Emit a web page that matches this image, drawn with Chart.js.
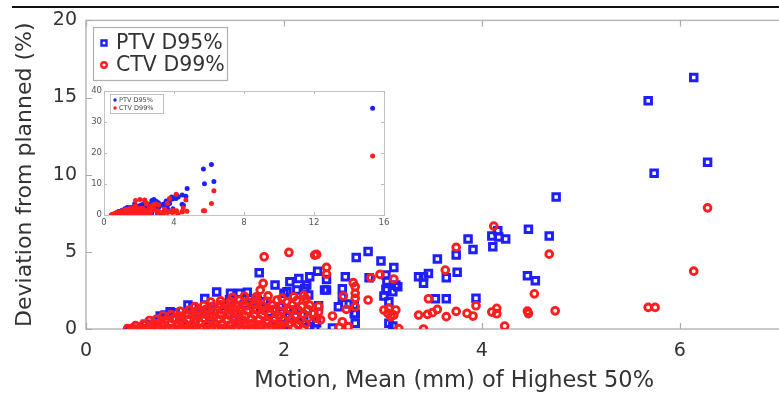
<!DOCTYPE html>
<html><head><meta charset="utf-8">
<script src="https://cdn.jsdelivr.net/npm/chart.js@4/dist/chart.umd.min.js"></script>
<style>
html,body{margin:0;padding:0;background:#fff;overflow:hidden;width:779px;height:398px;position:relative;}
#c1{position:absolute;left:0;top:0;}
#c2{position:absolute;left:60px;top:80px;}
</style></head><body>
<canvas id="c1" width="830" height="398"></canvas>
<canvas id="c2" width="340" height="160"></canvas>
<script>
// ---------- data ----------
const seriesLabels = ['PTV D95%', 'CTV D99%'];
const xTitle = 'Motion, Mean (mm) of Highest 50%';
const yTitle = 'Deviation from planned (%)';
const xTicks = [0, 2, 4, 6];
const yTicks = [0, 5, 10, 15, 20];
const insetXTicks = [0, 4, 8, 12, 16];
const insetYTicks = [0, 10, 20, 30, 40];

// PTV D95% : [motion, deviation]
const ptvData = [
 [6.14,16.3],[5.68,14.8],[6.28,10.8],[5.74,10.1],
 [4.75,8.56],[4.47,6.47],[4.68,6.02],[4.16,6.36],[4.10,6.02],[4.17,5.97],[4.24,5.84],[4.11,5.33],
 [3.86,5.83],[3.91,5.16],[3.74,4.79],[3.55,4.53],[3.75,3.67],[3.64,3.32],[3.46,3.60],[3.41,3.39],
 [3.36,3.39],[3.41,2.96],[4.46,3.45],[4.54,3.13],[3.53,1.96],[3.64,1.96],[3.94,2.00],
 [2.85,5.03],[2.73,4.64],[2.98,4.40],[3.11,3.99],[2.34,3.75],[2.62,3.39],[2.43,3.21],[2.43,2.52],
 [2.59,2.61],[2.86,3.32],[3.04,3.11],[3.15,2.74],[3.10,2.41],[3.04,2.52],[2.59,2.05],[2.66,1.62],
 [3.01,2.14],[3.06,1.77],[2.55,1.44],[2.72,0.97],[2.49,0.06],[2.72,0.37],[3.10,0.19],[3.06,0.37],
 [3.03,3.50],[3.13,2.85],[3.03,2.57],[2.71,1.55],[2.71,1.01],
 [0.44,0.00],[0.80,0.91],[0.85,1.12],[0.90,1.06],[1.03,1.55],[1.08,1.44],[1.20,1.98],[1.32,2.40],
 [1.46,2.31],[1.55,2.31],[1.63,2.38],[1.75,3.65],[1.73,1.88],[1.80,1.77],[1.91,2.85],[2.03,2.42],
 [2.06,3.06],[2.15,3.28],[2.23,2.85],[2.26,3.39],[2.13,2.52],[2.21,2.63],[2.25,2.20],[2.00,2.31],
 [2.41,2.52],[2.26,0.15],[2.31,0.00],[1.96,1.44],[2.10,1.23],[2.18,0.90],[1.03,0.58],[1.13,0.90],
 [1.26,1.23],[0.60,0.30],[0.70,0.50],[0.95,0.70],[1.15,1.10],[1.40,1.50],[1.50,1.00],[1.60,1.60],
 [1.70,1.30],[1.85,1.10],[1.90,0.60],[2.00,0.30],[2.05,0.80],[1.55,0.50],[1.25,0.40],[0.75,0.85],
 [1.10,0.20],[1.45,1.90],[1.65,1.95],[1.75,0.20],[2.20,0.50],[2.30,1.00],[2.35,1.50],[2.33,0.40],
 [15.35,34.4]
];

// CTV D99% : [motion, deviation]
const ctvData = [
 [6.28,7.85],[6.14,3.75],[5.68,1.40],[5.75,1.40],
 [4.12,6.67],[3.74,5.29],[4.68,4.85],[3.63,3.82],[4.53,2.28],[3.46,1.96],[3.94,1.51],[3.36,0.90],
 [3.45,0.95],[3.50,1.06],[3.55,1.27],[3.64,0.80],[3.74,1.14],[3.85,1.01],[3.91,0.84],[4.10,1.10],
 [4.15,1.34],[4.15,0.99],[4.46,1.16],[4.47,1.00],[4.74,1.18],[4.23,0.19],[3.41,0.00],
 [2.33,4.83],[2.43,3.99],[2.43,3.56],[2.97,3.54],[2.88,3.32],[3.11,3.24],[2.70,3.00],[2.72,2.74],
 [2.72,2.31],[2.72,1.99],[2.72,1.44],[2.60,2.14],[2.85,1.88],[2.63,1.27],[2.49,0.84],[2.59,0.47],
 [2.56,0.11],[2.65,0.15],[2.35,1.47],[2.35,1.10],[2.37,0.60],[3.01,1.23],[3.05,1.01],[3.08,0.80],
 [3.13,1.23],[3.06,1.34],[3.11,0.90],[3.16,0.02],
 [1.80,4.68],[2.05,4.96],[2.31,4.79],[1.79,2.96],[1.76,2.52],
 [0.42,0.02],[0.47,0.06],[0.52,0.00],[0.57,0.04],[0.62,0.09],[0.67,0.01],[0.72,0.05],[0.77,0.00],
 [0.82,0.07],[0.87,0.03],[0.92,0.00],[0.97,0.08],[1.02,0.02],[1.07,0.05],[1.12,0.00],[1.17,0.06],
 [1.22,0.03],[1.27,0.00],[1.32,0.08],[1.37,0.02],[1.42,0.05],[1.47,0.00],[1.52,0.07],[1.57,0.03],
 [1.62,0.00],[1.67,0.06],[1.72,0.02],[1.77,0.09],[1.82,0.00],[1.87,0.04],[1.92,0.07],[1.97,0.01],
 [2.02,0.05],[2.10,0.05],[2.20,0.00],
 [0.50,0.22],[0.58,0.30],[0.65,0.26],[0.72,0.35],[0.79,0.28],[0.86,0.38],[0.93,0.24],[1.00,0.33],
 [1.08,0.29],[1.15,0.40],[1.22,0.27],[1.30,0.36],[1.37,0.31],[1.45,0.25],[1.52,0.38],[1.60,0.30],
 [1.67,0.34],[1.75,0.27],[1.83,0.39],[1.90,0.31],[1.98,0.26],[2.06,0.36],[2.14,0.30],[2.22,0.33],
 [0.64,0.55],[0.71,0.62],[0.80,0.58],[0.88,0.66],[0.95,0.54],[1.03,0.63],[1.11,0.58],[1.19,0.69],
 [1.27,0.56],[1.35,0.64],[1.43,0.60],[1.51,0.70],[1.59,0.57],[1.67,0.65],[1.75,0.61],[1.83,0.55],
 [1.91,0.68],[1.99,0.59],[2.07,0.64],[2.16,0.57],[2.24,0.70],[2.33,0.70],
 [0.78,0.86],[0.86,0.92],[0.95,0.84],[1.03,0.95],[1.11,0.88],[1.20,0.97],[1.28,0.85],[1.36,0.93],
 [1.45,0.89],[1.53,0.99],[1.61,0.86],[1.70,0.94],[1.78,0.90],[1.86,0.98],[1.95,0.85],[2.03,0.93],
 [2.12,0.88],[2.20,0.96],[2.30,1.01],
 [0.95,1.15],[1.04,1.22],[1.12,1.18],[1.21,1.27],[1.29,1.14],[1.38,1.24],[1.46,1.19],[1.55,1.29],
 [1.63,1.16],[1.72,1.25],[1.80,1.20],[1.89,1.28],[1.97,1.15],[2.06,1.24],[2.15,1.19],[2.24,1.27],
 [1.10,1.45],[1.19,1.52],[1.28,1.47],[1.36,1.56],[1.45,1.44],[1.54,1.53],[1.62,1.49],[1.71,1.58],
 [1.79,1.46],[1.88,1.55],[1.98,1.50],[2.08,1.57],[2.18,1.46],[2.26,1.55],
 [1.26,1.75],[1.36,1.82],[1.46,1.78],[1.55,1.86],[1.64,1.74],[1.73,1.84],[1.83,1.79],[1.93,1.88],
 [2.03,1.76],[2.13,1.85],[2.22,1.98],
 [1.48,2.05],[1.60,2.12],[1.72,2.08],[1.84,2.15],[1.98,2.00],[2.10,2.09],[2.20,2.18],
 [15.35,19.0]
];

// ---------- styling ----------
const FONT = 'DejaVu Sans';
const BLUE = 'rgb(30,30,255)';
const RED = 'rgb(255,30,30)';
const TXT = '#333';
const toPts = arr => arr.map(p => ({x: p[0], y: p[1]}));

function inwardTicks(ctx, chart, len, color, width) {
  const a = chart.chartArea, xs = chart.scales.x, ys = chart.scales.y;
  ctx.save();
  ctx.strokeStyle = color; ctx.lineWidth = width;
  ctx.beginPath();
  xs.ticks.forEach(t => {
    const px = Math.round(xs.getPixelForValue(t.value)) + 0.5;
    ctx.moveTo(px, a.bottom); ctx.lineTo(px, a.bottom - len);
    ctx.moveTo(px, a.top); ctx.lineTo(px, a.top + len);
  });
  ys.ticks.forEach(t => {
    const py = Math.round(ys.getPixelForValue(t.value)) + 0.5;
    ctx.moveTo(a.left, py); ctx.lineTo(a.left + len, py);
    ctx.moveTo(a.right, py); ctx.lineTo(a.right - len, py);
  });
  ctx.stroke();
  ctx.restore();
}

const mainFrame = {
  id: 'mainFrame',
  beforeDatasetsDraw(chart) {
    const ctx = chart.ctx, a = chart.chartArea;
    ctx.save();
    ctx.strokeStyle = '#111'; ctx.lineWidth = 2;
    ctx.beginPath(); ctx.moveTo(12, 7); ctx.lineTo(chart.width, 7); ctx.stroke();
    ctx.strokeStyle = '#b8b8b8'; ctx.lineWidth = 1.5;
    ctx.strokeRect(a.left, a.top, a.right - a.left, a.bottom - a.top);
    ctx.restore();
    inwardTicks(ctx, chart, 6, '#aaa', 1.2);
  },
  afterDraw(chart) {
    const ctx = chart.ctx;
    ctx.save();
    ctx.fillStyle = '#fff'; ctx.strokeStyle = '#b0b0b0'; ctx.lineWidth = 1.2;
    ctx.fillRect(93.5, 27.5, 134, 53);
    ctx.strokeRect(93.5, 27.5, 134, 53);
    const rows = [43, 65];
    chart.data.datasets.forEach((ds, i) => {
      const y = rows[i];
      ctx.lineWidth = 2.4;
      ctx.strokeStyle = ds.borderColor;
      ctx.beginPath();
      if (ds.pointStyle === 'rect') ctx.rect(101.5, y - 2.5, 5, 5);
      else ctx.arc(104, y, 2.8, 0, Math.PI * 2);
      ctx.stroke();
      ctx.fillStyle = TXT;
      ctx.font = '20.5px "' + FONT + '"';
      ctx.textBaseline = 'middle';
      ctx.fillText(ds.label, 116, y + 1);
    });
    ctx.restore();
  }
};

new Chart(document.getElementById('c1'), {
  type: 'scatter',
  data: { datasets: [
    { label: seriesLabels[0], data: toPts(ptvData), pointStyle: 'rect', pointRadius: 4.6, pointBorderWidth: 3,
      borderColor: BLUE, backgroundColor: 'rgba(0,0,0,0)', order: 2 },
    { label: seriesLabels[1], data: toPts(ctvData), pointStyle: 'circle', pointRadius: 3.4, pointBorderWidth: 2.9,
      borderColor: RED, backgroundColor: 'rgba(0,0,0,0)', order: 1 }
  ]},
  options: {
    responsive: false, animation: false, devicePixelRatio: 1,
    layout: { padding: { top: 20, left: 0, right: 0, bottom: 0 } },
    plugins: { legend: { display: false }, tooltip: { enabled: false } },
    scales: {
      x: { type: 'linear', min: 0, max: 7.44,
        afterBuildTicks: s => { s.ticks = xTicks.map(v => ({ value: v })); },
        afterFit: s => { s.height = 69; },
        grid: { display: false, drawTicks: false }, border: { display: false },
        ticks: { font: { family: FONT, size: 19 }, color: TXT, padding: 11 },
        title: { display: true, text: xTitle, font: { family: FONT, size: 22.5 }, color: TXT, padding: { top: 0, bottom: 3 } } },
      y: { type: 'linear', min: 0, max: 20,
        afterBuildTicks: s => { s.ticks = yTicks.map(v => ({ value: v })); },
        afterFit: s => { s.width = 86; },
        grid: { display: false, drawTicks: false }, border: { display: false },
        ticks: { font: { family: FONT, size: 19 }, color: TXT, padding: 9 },
        title: { display: true, text: yTitle, font: { family: FONT, size: 22 }, color: TXT, padding: { top: 12, bottom: 0 } } }
    }
  },
  plugins: [mainFrame]
});

// ---------- inset ----------
const insetFrame = {
  id: 'insetFrame',
  beforeDatasetsDraw(chart) {
    const ctx = chart.ctx, a = chart.chartArea;
    ctx.save();
    ctx.fillStyle = '#fff';
    ctx.fillRect(a.left, a.top, a.right - a.left, a.bottom - a.top);
    ctx.strokeStyle = '#c4c4c4'; ctx.lineWidth = 1;
    ctx.strokeRect(a.left + 0.5, a.top + 0.5, a.right - a.left, a.bottom - a.top);
    ctx.restore();
    inwardTicks(ctx, chart, 3, '#bbb', 1);
  },
  afterDraw(chart) {
    const ctx = chart.ctx;
    ctx.save();
    ctx.fillStyle = '#fff'; ctx.strokeStyle = '#c0c0c0'; ctx.lineWidth = 1;
    ctx.fillRect(50.5, 14.5, 53, 19);
    ctx.strokeRect(50.5, 14.5, 53, 19);
    const rows = [20, 28];
    chart.data.datasets.forEach((ds, i) => {
      const y = rows[i];
      ctx.fillStyle = ds.backgroundColor;
      ctx.beginPath(); ctx.arc(55, y, 1.7, 0, Math.PI * 2); ctx.fill();
      ctx.fillStyle = '#444';
      ctx.font = '6.5px "' + FONT + '"';
      ctx.textBaseline = 'middle';
      ctx.fillText(ds.label, 59, y);
    });
    ctx.restore();
  }
};

new Chart(document.getElementById('c2'), {
  type: 'scatter',
  data: { datasets: [
    { label: seriesLabels[0], data: toPts(ptvData), pointStyle: 'circle', pointRadius: 2.5, pointBorderWidth: 0,
      borderColor: BLUE, backgroundColor: BLUE, order: 2 },
    { label: seriesLabels[1], data: toPts(ctvData), pointStyle: 'circle', pointRadius: 2.5, pointBorderWidth: 0,
      borderColor: RED, backgroundColor: RED, order: 1 }
  ]},
  options: {
    responsive: false, animation: false, devicePixelRatio: 1,
    layout: { padding: { top: 11, left: 0, right: 16, bottom: 0 } },
    plugins: { legend: { display: false }, tooltip: { enabled: false } },
    scales: {
      x: { type: 'linear', min: 0, max: 16,
        afterBuildTicks: s => { s.ticks = insetXTicks.map(v => ({ value: v })); },
        afterFit: s => { s.height = 25; },
        grid: { display: false, drawTicks: false }, border: { display: false },
        ticks: { font: { family: FONT, size: 8.5 }, color: '#555', padding: 3 } },
      y: { type: 'linear', min: 0, max: 40,
        afterBuildTicks: s => { s.ticks = insetYTicks.map(v => ({ value: v })); },
        afterFit: s => { s.width = 44; },
        grid: { display: false, drawTicks: false }, border: { display: false },
        ticks: { font: { family: FONT, size: 8.5 }, color: '#555', padding: 2 } }
    }
  },
  plugins: [insetFrame]
});
</script>
</body></html>
